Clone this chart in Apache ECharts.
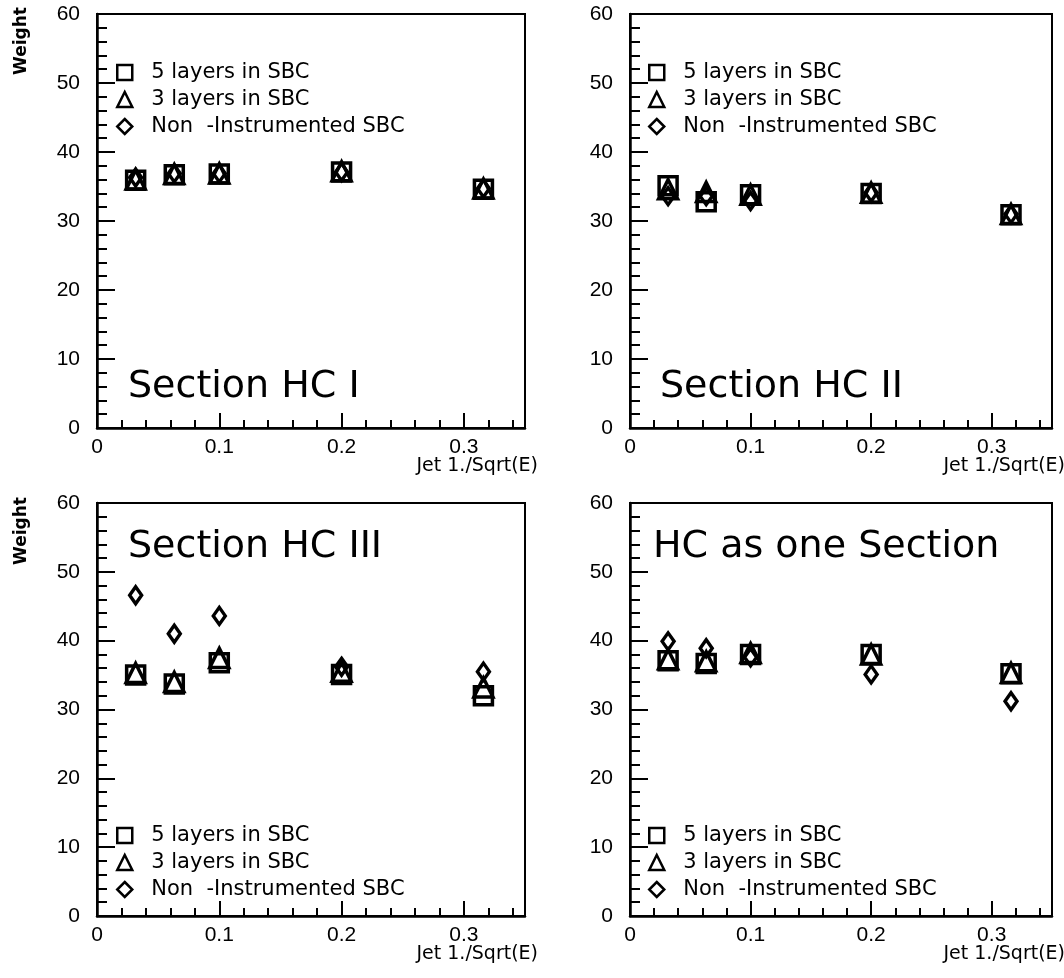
<!DOCTYPE html>
<html>
<head>
<meta charset="utf-8">
<script src="https://cdn.jsdelivr.net/npm/echarts@6/dist/echarts.min.js"></script>
<style>
  html, body { margin: 0; padding: 0; background: #fff; }
  #chart { width: 1064px; height: 978px; }
</style>
</head>
<body>
<div id="chart"></div>
<script>
// Jet energy expressed as 1/sqrt(E)
const xJet = [0.0316, 0.0632, 0.1, 0.2, 0.316];

const seriesNames = ['5 layers in SBC', '3 layers in SBC', 'Non  -Instrumented SBC'];
const panelTitles = ['Section HC I', 'Section HC II', 'Section HC III', 'HC as one Section'];

// Weights, section HC I
const hc1Layers5 = [35.9, 36.7, 36.8, 37.1, 34.6];
const hc1Layers3 = [36.0, 36.8, 36.9, 37.2, 34.7];
const hc1NonInstr = [36.3, 36.9, 36.9, 37.1, 34.7];
// Weights, section HC II
const hc2Layers5 = [35.1, 32.8, 33.8, 34.0, 30.9];
const hc2Layers3 = [34.6, 34.2, 33.8, 34.1, 31.0];
const hc2NonInstr = [33.6, 33.6, 32.9, 34.1, 31.0];
// Weights, section HC III
const hc3Layers5 = [35.0, 33.7, 36.8, 35.1, 32.0];
const hc3Layers3 = [35.3, 34.0, 37.5, 35.5, 33.2];
const hc3NonInstr = [46.6, 41.0, 43.6, 36.2, 35.5];
// Weights, HC as one section
const hcAllLayers5 = [37.1, 36.7, 38.0, 38.0, 35.2];
const hcAllLayers3 = [37.3, 37.0, 38.2, 38.0, 35.3];
const hcAllNonInstr = [39.9, 38.9, 37.6, 35.1, 31.2];

const panelData = [
  [hc1Layers5, hc1Layers3, hc1NonInstr],
  [hc2Layers5, hc2Layers3, hc2NonInstr],
  [hc3Layers5, hc3Layers3, hc3NonInstr],
  [hcAllLayers5, hcAllLayers3, hcAllNonInstr]
];

const yTickStep = 10;
const xTickStep = 0.1;

const FONT = 'DejaVu Sans';
const TICK_FONT = 'Liberation Sans';
const INK = '#000';

const grids = [
  { left: 97, top: 14, width: 428, height: 414 },
  { left: 630, top: 14, width: 422, height: 414 },
  { left: 97, top: 503, width: 428, height: 413 },
  { left: 630, top: 503, width: 422, height: 413 }
];

const symbols = ['rect', 'triangle', 'diamond'];
const symbolSizes = [18, 19, [12, 17]];

const option = {
  backgroundColor: '#fff',
  animation: false,
  grid: grids.map(g => Object.assign({
    show: true, borderColor: INK, borderWidth: 2, backgroundColor: 'transparent',
    containLabel: false, outerBoundsMode: 'none'
  }, g)),
  xAxis: grids.map((g, i) => ({
    type: 'value', gridIndex: i, min: 0, max: 0.35, interval: xTickStep,
    name: 'Jet 1./Sqrt(E)', nameLocation: 'end', nameGap: 13, nameMoveOverlap: false,
    nameTextStyle: { fontFamily: FONT, fontSize: 19, color: INK, align: 'right', verticalAlign: 'top', padding: [29, 0, 0, 0] },
    axisLine: { show: true, onZero: false, lineStyle: { color: INK, width: 2.5 } },
    axisTick: { show: true, inside: true, length: 15, lineStyle: { color: INK, width: 2 } },
    minorTick: { show: true, splitNumber: 5, length: 8, lineStyle: { color: INK, width: 2 } },
    splitLine: { show: false },
    axisLabel: {
      show: true, showMaxLabel: false, margin: 9, fontFamily: TICK_FONT, fontSize: 21, color: INK,
      formatter: v => Math.abs(v) < 1e-9 ? '0' : String(+v.toFixed(2))
    }
  })),
  yAxis: grids.map((g, i) => ({
    type: 'value', gridIndex: i, min: 0, max: 60, interval: yTickStep,
    axisLine: { show: true, onZero: false, lineStyle: { color: INK, width: 2.5 } },
    axisTick: { show: true, inside: true, length: 18, lineStyle: { color: INK, width: 2 } },
    minorTick: { show: true, splitNumber: 5, length: 10, lineStyle: { color: INK, width: 2 } },
    splitLine: { show: false },
    axisLabel: { show: true, margin: 17, fontFamily: TICK_FONT, fontSize: 21, color: INK }
  })),
  title: [
    { text: panelTitles[0], left: 123, top: 363 },
    { text: panelTitles[1], left: 655, top: 363 },
    { text: panelTitles[2], left: 123, top: 523 },
    { text: panelTitles[3], left: 648, top: 523 }
  ].map(t => Object.assign({ textStyle: { fontFamily: FONT, fontSize: 38, fontWeight: 'normal', color: INK } }, t)),
  legend: [
    { left: 111, top: 57 },
    { left: 643, top: 57 },
    { left: 111, top: 820 },
    { left: 643, top: 820 }
  ].map(l => Object.assign({
    orient: 'vertical', itemWidth: 15, itemHeight: 15, itemGap: 6,
    textStyle: { fontFamily: FONT, fontSize: 21, color: INK, padding: [0, 0, 0, 14] },
    itemStyle: { color: 'transparent', borderColor: INK, borderWidth: 2.5, opacity: 1 },
    data: seriesNames.map((n, k) => ({ name: n, icon: symbols[k] })),
    selectedMode: false
  }, l)),
  graphic: [
    { type: 'text', x: 22, y: 41, rotation: Math.PI / 2,
      style: { text: 'Weight', font: 'bold 17px "DejaVu Sans"', fill: INK, align: 'center', verticalAlign: 'middle' } },
    { type: 'text', x: 22, y: 531, rotation: Math.PI / 2,
      style: { text: 'Weight', font: 'bold 17px "DejaVu Sans"', fill: INK, align: 'center', verticalAlign: 'middle' } }
  ],
  series: []
};

panelData.forEach((sets, p) => {
  sets.forEach((vals, k) => {
    option.series.push({
      type: 'scatter', name: seriesNames[k], xAxisIndex: p, yAxisIndex: p,
      symbol: symbols[k], symbolSize: symbolSizes[k],
      itemStyle: { color: 'transparent', borderColor: INK, borderWidth: 3.5, opacity: 1 },
      emphasis: { disabled: true },
      data: xJet.map((x, j) => [x, vals[j]])
    });
  });
});

echarts.init(document.getElementById('chart'), null, { renderer: 'canvas' }).setOption(option);
</script>
</body>
</html>
